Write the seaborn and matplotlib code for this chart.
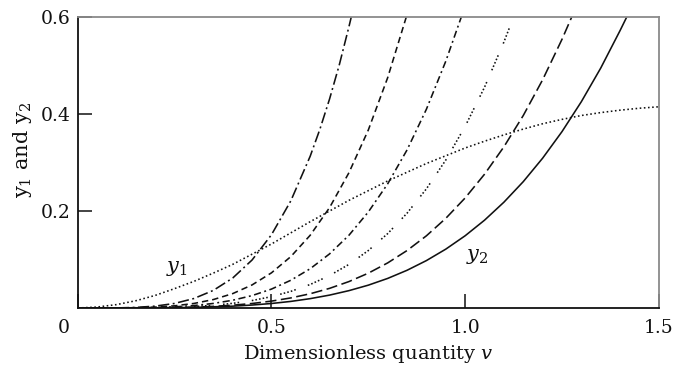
import numpy as np
import pandas as pd
import matplotlib
matplotlib.use("Agg")
import matplotlib.pyplot as plt
import matplotlib.transforms as mtransforms
import seaborn as sns

# ---- data ----
v_y1 = [0, 0.05, 0.1, 0.15, 0.2, 0.25, 0.3, 0.35, 0.4, 0.45, 0.5, 0.55, 0.6, 0.65, 0.7, 0.75,
        0.8, 0.85, 0.9, 0.95, 1.0, 1.05, 1.1, 1.15, 1.2, 1.25, 1.3, 1.35, 1.4, 1.45, 1.5]
y1 = [0, 0.002, 0.007, 0.015, 0.026, 0.040, 0.055, 0.072, 0.09, 0.111, 0.132, 0.155, 0.178, 0.200,
      0.222, 0.242, 0.262, 0.280, 0.298, 0.314, 0.330, 0.344, 0.357, 0.369, 0.380, 0.389, 0.397,
      0.403, 0.408, 0.412, 0.415]

v_a = [0, 0.1, 0.15, 0.2, 0.25, 0.3, 0.35, 0.4, 0.45, 0.5, 0.55, 0.6, 0.625, 0.65, 0.675, 0.7, 0.706]
y2_a = [0, 0.0002, 0.0012, 0.0039, 0.0094, 0.0196, 0.0363, 0.0618, 0.099, 0.151, 0.221, 0.313,
        0.3685, 0.431, 0.501, 0.580, 0.6]

v_b = [0, 0.1, 0.15, 0.2, 0.25, 0.3, 0.35, 0.4, 0.45, 0.5, 0.55, 0.6, 0.65, 0.7, 0.75, 0.8, 0.848]
y2_b = [0, 0.0001, 0.0006, 0.0019, 0.0045, 0.0094, 0.0174, 0.0297, 0.0476, 0.0725, 0.106, 0.150,
        0.207, 0.279, 0.367, 0.475, 0.6]

v_c = [0, 0.1, 0.2, 0.25, 0.3, 0.35, 0.4, 0.45, 0.5, 0.55, 0.6, 0.65, 0.7, 0.75, 0.8, 0.85, 0.9,
       0.95, 0.99]
y2_c = [0, 0.0001, 0.001, 0.0024, 0.0051, 0.0094, 0.016, 0.0256, 0.039, 0.0572, 0.081, 0.1116,
        0.150, 0.198, 0.256, 0.326, 0.410, 0.509, 0.6]

v_d = [0, 0.1, 0.2, 0.25, 0.3, 0.35, 0.4, 0.45, 0.5, 0.55, 0.6, 0.65, 0.7, 0.75, 0.8, 0.85, 0.9,
       0.95, 1.0, 1.05, 1.1, 1.125]
y2_d = [0, 0.0, 0.0006, 0.0015, 0.003, 0.0056, 0.0096, 0.0154, 0.0234, 0.0343, 0.0485, 0.0669,
        0.0899, 0.1185, 0.1534, 0.1955, 0.2458, 0.3051, 0.3746, 0.4553, 0.5485, 0.6]

v_e = [0, 0.1, 0.2, 0.3, 0.35, 0.4, 0.45, 0.5, 0.55, 0.6, 0.65, 0.7, 0.75, 0.8, 0.85, 0.9, 0.95,
       1.0, 1.05, 1.1, 1.15, 1.2, 1.25, 1.275]
y2_e = [0, 0.0, 0.0004, 0.0018, 0.0034, 0.0058, 0.0093, 0.0142, 0.0208, 0.0294, 0.0405, 0.0545,
        0.0718, 0.093, 0.1185, 0.1489, 0.1849, 0.227, 0.2759, 0.3324, 0.397, 0.4707, 0.5542, 0.6]

v_f = [0, 0.1, 0.2, 0.3, 0.4, 0.45, 0.5, 0.55, 0.6, 0.65, 0.7, 0.75, 0.8, 0.85, 0.9, 0.95, 1.0,
       1.05, 1.1, 1.15, 1.2, 1.25, 1.3, 1.35, 1.4, 1.417]
y2_f = [0, 0.0, 0.0002, 0.0012, 0.0038, 0.0061, 0.0093, 0.0136, 0.0193, 0.0266, 0.0358, 0.0471,
        0.061, 0.0778, 0.0978, 0.1214, 0.149, 0.1811, 0.2182, 0.2606, 0.309, 0.3638, 0.4256,
        0.4949, 0.5724, 0.6]

x_ticks = [0, 0.5, 1.0, 1.5]
x_tick_labels = ["0", "0.5", "1.0", "1.5"]
y_ticks = [0.2, 0.4, 0.6]
y_tick_labels = ["0.2", "0.4", "0.6"]

# ---- style ----
sns.set_theme(style="white")
plt.rcParams["font.family"] = ["DejaVu Serif"]
plt.rcParams["mathtext.fontset"] = "dejavuserif"

fig = plt.figure(figsize=(6.73, 3.71), dpi=100)
ax = fig.add_axes([0.1155, 0.1698, 0.979 - 0.1155, 0.954 - 0.1698])

ink = "#111111"
lw = 1.15
series = [
    (v_y1, y1, (0, (1.0, 1.6))),
    (v_a, y2_a, (0, (7, 2.2, 1.2, 2.2))),
    (v_b, y2_b, (0, (4, 2.5))),
    (v_c, y2_c, (0, (4.5, 2.2, 1.2, 2.2))),
    (v_d, y2_d, (0, (1, 1.3, 1, 1.3, 1, 1.3, 1, 1.3, 1, 8))),
    (v_e, y2_e, (0, (7, 2.8))),
    (v_f, y2_f, "-"),
]
for xs, ys, ls in series:
    df = pd.DataFrame({"v": xs, "y": ys})
    sns.lineplot(data=df, x="v", y="y", ax=ax, color=ink, lw=lw,
                 sort=False, estimator=None)
    ax.lines[-1].set_linestyle(ls)

ax.set_xlim(0, 1.5)
ax.set_ylim(0, 0.6)
ax.set_xticks(x_ticks)
ax.set_xticklabels(x_tick_labels)
ax.set_yticks(y_ticks)
ax.set_yticklabels(y_tick_labels)
ax.tick_params(direction="in", length=10, width=1.1, color=ink,
               labelsize=13.5, labelcolor=ink, bottom=True, left=True,
               top=False, right=False)
ax.tick_params(axis="x", pad=8)
ax.tick_params(axis="y", pad=5)

# shift the "0" label so it sits left of the origin
lab0 = ax.get_xticklabels()[0]
lab0.set_transform(lab0.get_transform() +
                   mtransforms.ScaledTranslation(-14 / 100, 0, fig.dpi_scale_trans))

for side in ["left", "bottom"]:
    ax.spines[side].set_color(ink)
    ax.spines[side].set_linewidth(1.3)
for side in ["top", "right"]:
    ax.spines[side].set_color("#8a8a8a")
    ax.spines[side].set_linewidth(1.3)

ax.set_xlabel("Dimensionless quantity $v$", fontsize=14, color=ink, labelpad=4)
ax.set_ylabel(r"y$_\mathregular{1}$ and y$_\mathregular{2}$", fontsize=15, color=ink)
ax.yaxis.set_label_coords(-0.075, 0.543)

ax.text(0.256, 0.082, "$y_1$", fontsize=15, color=ink, ha="center", va="center")
ax.text(1.032, 0.107, "$y_2$", fontsize=15, color=ink, ha="center", va="center")

fig.savefig("out.png", dpi=100)
